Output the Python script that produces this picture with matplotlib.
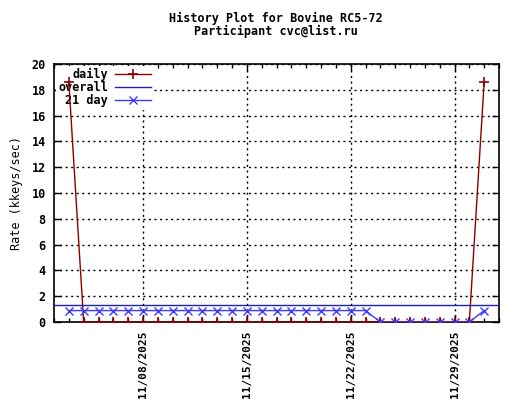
import datetime as dt
import matplotlib
matplotlib.use('Agg')
import matplotlib.pyplot as plt
import matplotlib.dates as mdates

# data
start = dt.date(2025, 11, 3)
days = [start + dt.timedelta(days=i) for i in range(29)]
daily = [18.6,
         0, 0, 0, 0, 0, 0, 0, 0, 0, 0, 0, 0, 0, 0, 0, 0, 0, 0, 0, 0, 0, 0, 0, 0, 0, 0, 0,
         18.6]
avg21 = [0.886, 0.886, 0.886, 0.886, 0.886, 0.886, 0.886, 0.886, 0.886, 0.886, 0.886,
         0.886, 0.886, 0.886, 0.886, 0.886, 0.886, 0.886, 0.886, 0.886, 0.886,
         0, 0, 0, 0, 0, 0, 0,
         0.886]
overall = 1.33
date_ticks = [dt.date(2025, 11, 8), dt.date(2025, 11, 15), dt.date(2025, 11, 22), dt.date(2025, 11, 29)]

plt.rcParams['font.family'] = 'DejaVu Sans Mono'
plt.rcParams['font.weight'] = 'bold'
plt.rcParams['font.size'] = 8.5

fig = plt.figure(figsize=(5.2, 4.0), dpi=100)
ax = fig.add_axes([54/520, 78/400, 445/520, 258/400])

ax.plot(days, daily, color='#8b0000', lw=1, marker='+', ms=7, mew=1.2, label='daily', zorder=3)
ax.axhline(overall, color='#2020b0', lw=1, label='overall', zorder=3)
ax.plot(days, avg21, color='#3a3aff', lw=1, marker='x', ms=6, mew=1, label='21 day', zorder=3)

ax.set_xlim(dt.date(2025, 11, 2), dt.date(2025, 12, 2))
ax.set_ylim(0, 20)
ax.set_yticks(range(0, 21, 2))
ax.set_xticks(date_ticks)
ax.xaxis.set_major_formatter(mdates.DateFormatter('%m/%d/%Y'))
ax.xaxis.set_minor_locator(mdates.DayLocator())
plt.setp(ax.get_xticklabels(), rotation=90, fontsize=8)

ax.tick_params(which='both', direction='in', top=True, right=True, color='black')
ax.tick_params(which='major', length=5, width=1, pad=6)
ax.tick_params(which='minor', length=3, width=1)
ax.grid(True, which='major', color='black', ls=(0, (1.5, 2.5)), lw=1)
ax.set_axisbelow(True)
for s in ax.spines.values():
    s.set_linewidth(1.2)

ax.set_ylabel('Rate (kkeys/sec)', labelpad=6)
fig.text(276/520, 1 - 18/400, 'History Plot for Bovine RC5-72', ha='center', va='center')
fig.text(276/520, 1 - 31/400, 'Participant cvc@list.ru', ha='center', va='center')

leg = ax.legend(loc='upper left', bbox_to_anchor=(0.0, 1.0), frameon=True, facecolor='white',
                edgecolor='none', framealpha=1, fancybox=False, markerfirst=False,
                handlelength=3.0, handletextpad=0.6, labelspacing=0.0, borderpad=0.2,
                borderaxespad=0.15)
for t in leg.get_texts():
    t.set_ha('right')
leg.set_zorder(1)

fig.savefig('out.png', dpi=100)
